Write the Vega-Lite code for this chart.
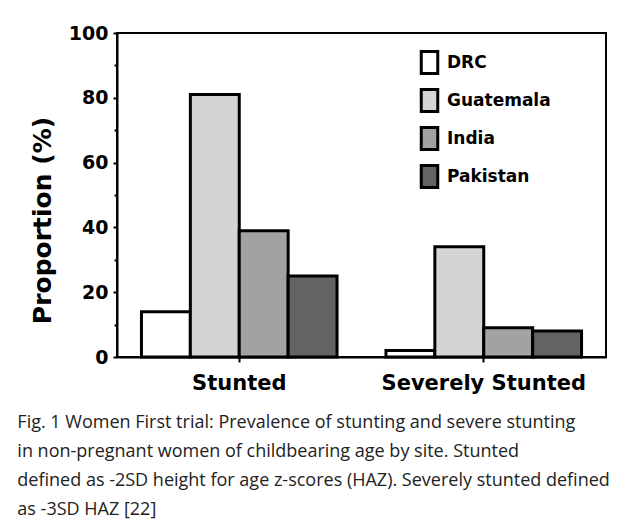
{
  "$schema": "https://vega.github.io/schema/vega-lite/v6.json",
  "autosize": {"type": "none"},
  "width": 489,
  "height": 324,
  "padding": {"left": 117, "top": 33, "right": 24, "bottom": 163},
  "background": "white",
  "title": {
    "text": [
      "Fig. 1 Women First trial: Prevalence of stunting and severe stunting",
      "in non-pregnant women of childbearing age by site. Stunted",
      "defined as -2SD height for age z-scores (HAZ). Severely stunted defined",
      "as -3SD HAZ [22]"
    ],
    "orient": "bottom",
    "anchor": "start",
    "frame": "bounds",
    "dx": -13,
    "offset": 21,
    "font": "Open Sans",
    "fontSize": 18,
    "fontWeight": "normal",
    "lineHeight": 29,
    "color": "#222222"
  },
  "data": {
    "values": [
      {"category": "Stunted", "site": "DRC", "value": 14},
      {"category": "Stunted", "site": "Guatemala", "value": 81},
      {"category": "Stunted", "site": "India", "value": 39},
      {"category": "Stunted", "site": "Pakistan", "value": 25},
      {"category": "Severely Stunted", "site": "DRC", "value": 2},
      {"category": "Severely Stunted", "site": "Guatemala", "value": 34},
      {"category": "Severely Stunted", "site": "India", "value": 9},
      {"category": "Severely Stunted", "site": "Pakistan", "value": 8}
    ]
  },
  "mark": {"type": "bar", "stroke": "black", "strokeWidth": 3, "strokeJoin": "miter"},
  "encoding": {
    "x": {
      "field": "category",
      "type": "nominal",
      "sort": ["Stunted", "Severely Stunted"],
      "scale": {"paddingInner": 0.2, "paddingOuter": 0.1},
      "axis": {
        "title": null,
        "labelAngle": 0,
        "labelLimit": 0,
        "labelFont": "DejaVu Sans",
        "labelFontWeight": "bold",
        "labelFontSize": 21,
        "labelColor": "black",
        "labelPadding": 10,
        "tickSize": 5,
        "tickWidth": 2,
        "tickColor": "black",
        "domainColor": "black",
        "domainWidth": 2
      }
    },
    "xOffset": {
      "field": "site",
      "type": "nominal",
      "sort": ["DRC", "Guatemala", "India", "Pakistan"],
      "scale": {"paddingInner": 0, "paddingOuter": 0}
    },
    "y": {
      "field": "value",
      "type": "quantitative",
      "scale": {"domain": [0, 100], "nice": false},
      "axis": {
        "title": "Proportion (%)",
        "titleFont": "DejaVu Sans",
        "titleFontWeight": "bold",
        "titleFontSize": 25,
        "titleColor": "black",
        "titlePadding": 13,
        "titleY": 187,
        "values": [0, 10, 20, 30, 40, 50, 60, 70, 80, 90, 100],
        "labelExpr": "datum.value % 20 === 0 ? datum.label : ''",
        "labelFont": "DejaVu Sans",
        "labelFontWeight": "bold",
        "labelFontSize": 19,
        "labelColor": "black",
        "labelPadding": 5,
        "tickSize": {"condition": {"test": "datum.value % 20 === 0", "value": 4}, "value": 3},
        "tickWidth": 2,
        "tickColor": "black",
        "domainColor": "black",
        "domainWidth": 2,
        "grid": false
      }
    },
    "fill": {
      "field": "site",
      "type": "nominal",
      "sort": ["DRC", "Guatemala", "India", "Pakistan"],
      "scale": {
        "domain": ["DRC", "Guatemala", "India", "Pakistan"],
        "range": ["#ffffff", "#d4d4d4", "#a2a2a2", "#636363"]
      },
      "legend": {
        "title": null,
        "orient": "none",
        "legendX": 300,
        "legendY": 17,
        "padding": 0,
        "symbolType": "M-0.75,-1H0.75V1H-0.75Z",
        "symbolSize": 484,
        "symbolStrokeColor": "black",
        "symbolStrokeWidth": 3,
        "symbolOpacity": 1,
        "rowPadding": 3,
        "labelOffset": 5,
        "labelFont": "DejaVu Sans",
        "labelFontWeight": "bold",
        "labelFontSize": 17,
        "labelColor": "black"
      }
    }
  },
  "config": {
    "view": {"stroke": "black", "strokeWidth": 2}
  }
}
